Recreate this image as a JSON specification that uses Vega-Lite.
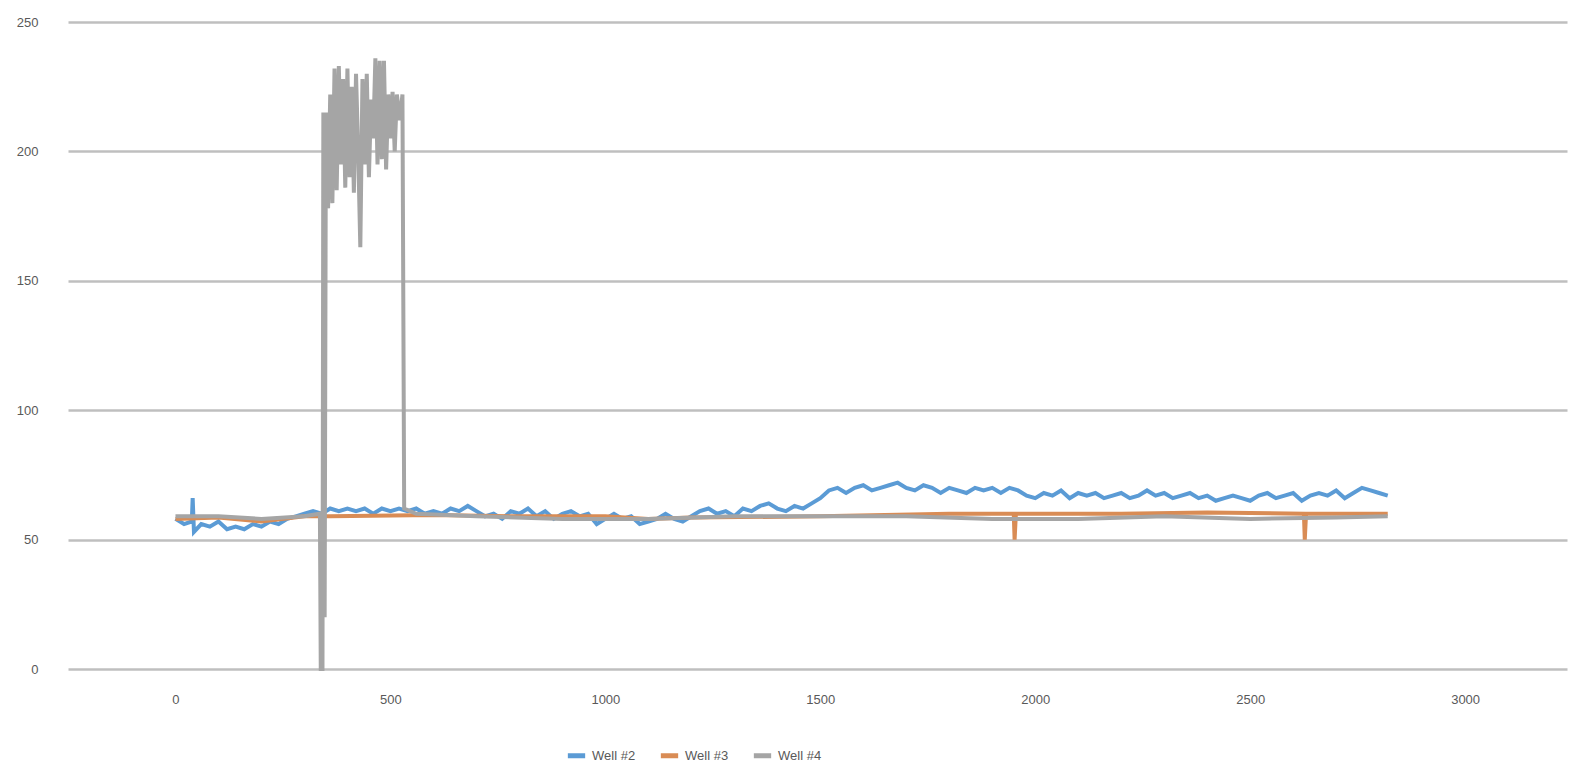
{
"$schema":"https://vega.github.io/schema/vega-lite/v6.json",
"width":1499,"height":647,
"autosize":{"type":"none"},
"padding":{"left":68,"top":22,"right":24,"bottom":107},
"background":"white",
"data":{"values":[
{"s":"Well #2","x":0,"y":58},{"s":"Well #2","x":20,"y":56},{"s":"Well #2","x":38,"y":57},{"s":"Well #2","x":40,"y":66},{"s":"Well #2","x":43,"y":53},{"s":"Well #2","x":60,"y":56},{"s":"Well #2","x":80,"y":55},{"s":"Well #2","x":100,"y":57},{"s":"Well #2","x":120,"y":54},{"s":"Well #2","x":140,"y":55},{"s":"Well #2","x":160,"y":54},{"s":"Well #2","x":180,"y":56},{"s":"Well #2","x":200,"y":55},{"s":"Well #2","x":220,"y":57},{"s":"Well #2","x":240,"y":56},{"s":"Well #2","x":260,"y":58},{"s":"Well #2","x":280,"y":59},{"s":"Well #2","x":300,"y":60},{"s":"Well #2","x":320,"y":61},{"s":"Well #2","x":340,"y":60},{"s":"Well #2","x":360,"y":62},{"s":"Well #2","x":380,"y":61},{"s":"Well #2","x":400,"y":62},{"s":"Well #2","x":420,"y":61},{"s":"Well #2","x":440,"y":62},{"s":"Well #2","x":460,"y":60},{"s":"Well #2","x":480,"y":62},{"s":"Well #2","x":500,"y":61},{"s":"Well #2","x":520,"y":62},{"s":"Well #2","x":540,"y":61},{"s":"Well #2","x":560,"y":62},{"s":"Well #2","x":580,"y":60},{"s":"Well #2","x":600,"y":61},{"s":"Well #2","x":620,"y":60},{"s":"Well #2","x":640,"y":62},{"s":"Well #2","x":660,"y":61},{"s":"Well #2","x":680,"y":63},{"s":"Well #2","x":700,"y":61},{"s":"Well #2","x":720,"y":59},{"s":"Well #2","x":740,"y":60},{"s":"Well #2","x":760,"y":58},{"s":"Well #2","x":780,"y":61},{"s":"Well #2","x":800,"y":60},{"s":"Well #2","x":820,"y":62},{"s":"Well #2","x":840,"y":59},{"s":"Well #2","x":860,"y":61},{"s":"Well #2","x":880,"y":58},{"s":"Well #2","x":900,"y":60},{"s":"Well #2","x":920,"y":61},{"s":"Well #2","x":940,"y":59},{"s":"Well #2","x":960,"y":60},{"s":"Well #2","x":980,"y":56},{"s":"Well #2","x":1000,"y":58},{"s":"Well #2","x":1020,"y":60},{"s":"Well #2","x":1040,"y":58},{"s":"Well #2","x":1060,"y":59},{"s":"Well #2","x":1080,"y":56},{"s":"Well #2","x":1100,"y":57},{"s":"Well #2","x":1120,"y":58},{"s":"Well #2","x":1140,"y":60},{"s":"Well #2","x":1160,"y":58},{"s":"Well #2","x":1180,"y":57},{"s":"Well #2","x":1200,"y":59},{"s":"Well #2","x":1220,"y":61},{"s":"Well #2","x":1240,"y":62},{"s":"Well #2","x":1260,"y":60},{"s":"Well #2","x":1280,"y":61},{"s":"Well #2","x":1300,"y":59},{"s":"Well #2","x":1320,"y":62},{"s":"Well #2","x":1340,"y":61},{"s":"Well #2","x":1360,"y":63},{"s":"Well #2","x":1380,"y":64},{"s":"Well #2","x":1400,"y":62},{"s":"Well #2","x":1420,"y":61},{"s":"Well #2","x":1440,"y":63},{"s":"Well #2","x":1460,"y":62},{"s":"Well #2","x":1480,"y":64},{"s":"Well #2","x":1500,"y":66},{"s":"Well #2","x":1520,"y":69},{"s":"Well #2","x":1540,"y":70},{"s":"Well #2","x":1560,"y":68},{"s":"Well #2","x":1580,"y":70},{"s":"Well #2","x":1600,"y":71},{"s":"Well #2","x":1620,"y":69},{"s":"Well #2","x":1640,"y":70},{"s":"Well #2","x":1660,"y":71},{"s":"Well #2","x":1680,"y":72},{"s":"Well #2","x":1700,"y":70},{"s":"Well #2","x":1720,"y":69},{"s":"Well #2","x":1740,"y":71},{"s":"Well #2","x":1760,"y":70},{"s":"Well #2","x":1780,"y":68},{"s":"Well #2","x":1800,"y":70},{"s":"Well #2","x":1820,"y":69},{"s":"Well #2","x":1840,"y":68},{"s":"Well #2","x":1860,"y":70},{"s":"Well #2","x":1880,"y":69},{"s":"Well #2","x":1900,"y":70},{"s":"Well #2","x":1920,"y":68},{"s":"Well #2","x":1940,"y":70},{"s":"Well #2","x":1960,"y":69},{"s":"Well #2","x":1980,"y":67},{"s":"Well #2","x":2000,"y":66},{"s":"Well #2","x":2020,"y":68},{"s":"Well #2","x":2040,"y":67},{"s":"Well #2","x":2060,"y":69},{"s":"Well #2","x":2080,"y":66},{"s":"Well #2","x":2100,"y":68},{"s":"Well #2","x":2120,"y":67},{"s":"Well #2","x":2140,"y":68},{"s":"Well #2","x":2160,"y":66},{"s":"Well #2","x":2180,"y":67},{"s":"Well #2","x":2200,"y":68},{"s":"Well #2","x":2220,"y":66},{"s":"Well #2","x":2240,"y":67},{"s":"Well #2","x":2260,"y":69},{"s":"Well #2","x":2280,"y":67},{"s":"Well #2","x":2300,"y":68},{"s":"Well #2","x":2320,"y":66},{"s":"Well #2","x":2340,"y":67},{"s":"Well #2","x":2360,"y":68},{"s":"Well #2","x":2380,"y":66},{"s":"Well #2","x":2400,"y":67},{"s":"Well #2","x":2420,"y":65},{"s":"Well #2","x":2440,"y":66},{"s":"Well #2","x":2460,"y":67},{"s":"Well #2","x":2480,"y":66},{"s":"Well #2","x":2500,"y":65},{"s":"Well #2","x":2520,"y":67},{"s":"Well #2","x":2540,"y":68},{"s":"Well #2","x":2560,"y":66},{"s":"Well #2","x":2580,"y":67},{"s":"Well #2","x":2600,"y":68},{"s":"Well #2","x":2620,"y":65},{"s":"Well #2","x":2640,"y":67},{"s":"Well #2","x":2660,"y":68},{"s":"Well #2","x":2680,"y":67},{"s":"Well #2","x":2700,"y":69},{"s":"Well #2","x":2720,"y":66},{"s":"Well #2","x":2740,"y":68},{"s":"Well #2","x":2760,"y":70},{"s":"Well #2","x":2780,"y":69},{"s":"Well #2","x":2800,"y":68},{"s":"Well #2","x":2820,"y":67},
{"s":"Well #3","x":0,"y":58},{"s":"Well #3","x":100,"y":58.5},{"s":"Well #3","x":200,"y":57},{"s":"Well #3","x":300,"y":59},{"s":"Well #3","x":360,"y":59},{"s":"Well #3","x":600,"y":59.5},{"s":"Well #3","x":800,"y":59},{"s":"Well #3","x":1000,"y":59},{"s":"Well #3","x":1100,"y":58},{"s":"Well #3","x":1200,"y":58.5},{"s":"Well #3","x":1500,"y":59},{"s":"Well #3","x":1800,"y":60},{"s":"Well #3","x":1950,"y":60},{"s":"Well #3","x":1952,"y":50},{"s":"Well #3","x":1955,"y":60},{"s":"Well #3","x":2200,"y":60},{"s":"Well #3","x":2400,"y":60.5},{"s":"Well #3","x":2625,"y":60},{"s":"Well #3","x":2627,"y":50},{"s":"Well #3","x":2630,"y":60},{"s":"Well #3","x":2820,"y":60},
{"s":"Well #4","x":0,"y":59},{"s":"Well #4","x":100,"y":59},{"s":"Well #4","x":200,"y":58},{"s":"Well #4","x":300,"y":59},{"s":"Well #4","x":336,"y":60},{"s":"Well #4","x":338,"y":0},{"s":"Well #4","x":342,"y":0},{"s":"Well #4","x":344,"y":215},{"s":"Well #4","x":347,"y":20},{"s":"Well #4","x":350,"y":215},{"s":"Well #4","x":355,"y":178},{"s":"Well #4","x":360,"y":222},{"s":"Well #4","x":365,"y":180},{"s":"Well #4","x":370,"y":232},{"s":"Well #4","x":375,"y":185},{"s":"Well #4","x":380,"y":233},{"s":"Well #4","x":385,"y":195},{"s":"Well #4","x":390,"y":228},{"s":"Well #4","x":395,"y":186},{"s":"Well #4","x":400,"y":232},{"s":"Well #4","x":405,"y":190},{"s":"Well #4","x":410,"y":225},{"s":"Well #4","x":415,"y":184},{"s":"Well #4","x":420,"y":230},{"s":"Well #4","x":425,"y":200},{"s":"Well #4","x":430,"y":163},{"s":"Well #4","x":435,"y":228},{"s":"Well #4","x":440,"y":195},{"s":"Well #4","x":445,"y":230},{"s":"Well #4","x":450,"y":190},{"s":"Well #4","x":455,"y":220},{"s":"Well #4","x":460,"y":205},{"s":"Well #4","x":465,"y":236},{"s":"Well #4","x":470,"y":195},{"s":"Well #4","x":475,"y":235},{"s":"Well #4","x":480,"y":197},{"s":"Well #4","x":485,"y":235},{"s":"Well #4","x":490,"y":193},{"s":"Well #4","x":495,"y":222},{"s":"Well #4","x":500,"y":205},{"s":"Well #4","x":505,"y":223},{"s":"Well #4","x":510,"y":200},{"s":"Well #4","x":515,"y":222},{"s":"Well #4","x":522,"y":212},{"s":"Well #4","x":528,"y":222},{"s":"Well #4","x":532,"y":62},{"s":"Well #4","x":560,"y":60},{"s":"Well #4","x":700,"y":59},{"s":"Well #4","x":900,"y":58},{"s":"Well #4","x":1100,"y":58},{"s":"Well #4","x":1300,"y":59},{"s":"Well #4","x":1500,"y":59},{"s":"Well #4","x":1700,"y":59},{"s":"Well #4","x":1900,"y":58},{"s":"Well #4","x":2100,"y":58},{"s":"Well #4","x":2300,"y":59},{"s":"Well #4","x":2500,"y":58},{"s":"Well #4","x":2700,"y":58.5},{"s":"Well #4","x":2820,"y":59}
]},
"mark":{"type":"line","strokeWidth":4,"strokeJoin":"miter"},
"encoding":{
"x":{"field":"x","type":"quantitative","scale":{"domain":[-250,3237],"nice":false,"zero":false},"axis":{"values":[0,500,1000,1500,2000,2500,3000],"format":"d","title":null,"grid":false,"domain":false,"ticks":false,"labelPadding":24,"labelColor":"#595959","labelFontSize":13,"labelFont":"Liberation Sans"}},
"y":{"field":"y","type":"quantitative","scale":{"domain":[0,250],"nice":false},"axis":{"values":[0,50,100,150,200,250],"title":null,"domain":false,"ticks":false,"labelPadding":30,"labelColor":"#595959","labelFontSize":13,"labelFont":"Liberation Sans","gridColor":"#BFBFBF","gridWidth":2.5}},
"color":{"field":"s","type":"nominal","scale":{"domain":["Well #2","Well #3","Well #4"],"range":["#5B9BD5","#D98C55","#A5A5A5"]},"legend":{"orient":"none","legendX":497,"legendY":722,"direction":"horizontal","title":null,"symbolType":"stroke","symbolStrokeWidth":5,"symbolSize":300,"labelFontSize":13,"labelColor":"#595959","labelFont":"Liberation Sans","columnPadding":14}}
},
"config":{"view":{"stroke":null}}
}
